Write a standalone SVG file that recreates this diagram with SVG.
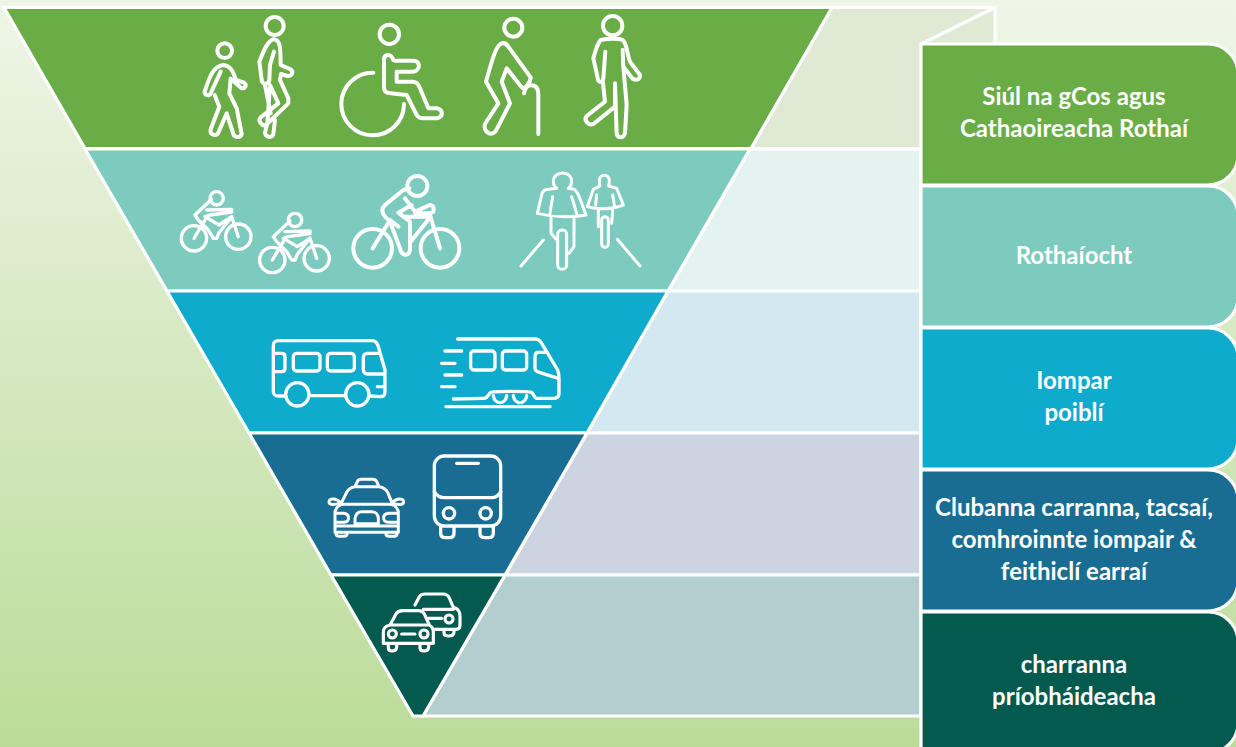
<svg xmlns="http://www.w3.org/2000/svg" width="1236" height="747" viewBox="0 0 1236 747">
<defs>
<linearGradient id="bg" x1="0" y1="0" x2="0" y2="1"><stop offset="0" stop-color="#eff6e8"/><stop offset="0.15" stop-color="#e7f1db"/><stop offset="1" stop-color="#bbdc99"/></linearGradient>
<g id="cyclist">
<circle cx="72" cy="235" r="38"/><circle cx="205" cy="230" r="38"/><circle cx="140" cy="115" r="20"/>
<path d="M125,118 L75,165 L85,180 L115,210 L130,235 L140,235 L147,218 L185,170 M110,150 L185,148 L185,156 L120,165 L105,170 L147,195 L185,170 M72,235 L105,180 M205,230 L185,170"/>
</g>
</defs>
<style>
.s{fill:none;stroke:#fff;stroke-linecap:round;stroke-linejoin:round;stroke-width:12}
.edge{stroke:#fff;stroke-width:3.2}
.box{stroke:#fff;stroke-width:3.2}
.lab{font-family:"Lato","Carlito","Liberation Sans",sans-serif;font-weight:700;font-size:24px;fill:#fff;text-anchor:middle}
</style>
<rect id="background" width="1236" height="747" fill="url(#bg)"/>
<g id="connectors">
<polygon class="edge" points="832,7.5 995,7.5 995,148.5 751,148.5" fill="#dfe9d3"/>
<polygon class="edge" points="750,149 921,149 921,291 668,291" fill="#e4f3ef"/>
<polygon class="edge" points="668,291 921,291 921,433 587,433" fill="#d3e8f1"/>
<polygon class="edge" points="587,433 921,433 921,575 505,575" fill="#ccd4e2"/>
<polygon class="edge" points="505,575 921,575 921,716 423,716" fill="#b2cece"/>
<path class="edge" fill="none" d="M921,44 L995,7.5"/>
</g>
<g id="tier-walking"><polygon class="edge" points="4,7.5 832,7.5 751,148.5 85,148.5" fill="#6aac46"/>
<g class="s" transform="translate(180,0) scale(.33333)">
<circle cx="134" cy="152" r="22"/>
<path d="M130,195 C100,200 90,225 74,275 C74,286 88,290 92,280 L122,215 M130,195 C150,197 158,210 168,240 L192,248 C202,255 196,268 184,264 L152,236 L148,280 L170,325 L185,402 C182,414 164,414 160,402 L140,340 L115,398 C108,410 88,405 92,388 L118,320 L104,285"/>
<circle cx="284" cy="78" r="27"/>
<path d="M280,118 C262,122 250,155 238,185 L246,245 C252,255 266,252 268,240 L270,195 L282,155 M280,118 C298,120 302,128 302,195 L332,208 C342,215 336,230 322,228 L303,222 L300,240 L325,295 L325,310 L258,375 C246,380 232,362 242,352 L295,310 L270,255 L262,370 M255,255 L272,340 M285,360 L280,402 C276,416 256,412 255,398 L262,370"/>
<circle cx="628" cy="103" r="29"/>
<path d="M640,180 C632,158 612,162 612,178 L612,262 C612,274 620,280 632,280 L680,285 L710,345 C716,354 720,355 728,355 L772,355 C790,350 790,330 772,325 L745,325 L720,265 C715,250 708,245 698,245 L650,245 L650,215 L700,215 C722,212 722,182 700,182 L645,182"/>
<path d="M580,218 A94,94 0 1 0 672,312"/>
<circle cx="1000" cy="83" r="27"/>
<path d="M965,130 C950,135 940,165 918,245 L955,310 L915,372 C908,395 935,412 948,392 L990,310 L965,245 L980,205 L1025,262 C1035,272 1052,245 1052,232 L985,140 C980,132 972,128 965,130 M1032,280 C1036,262 1042,256 1055,256 C1070,256 1075,268 1075,285 L1075,402"/>
<circle cx="1298" cy="77" r="29"/>
<path d="M1262,120 C1285,115 1315,115 1328,120 C1340,128 1342,165 1350,185 L1380,225 C1380,240 1368,242 1358,236 L1330,200 L1328,150 M1262,120 C1250,135 1245,155 1240,175 L1255,242 C1262,250 1268,245 1270,235 L1276,155 M1330,200 L1340,315 L1335,400 C1330,416 1312,416 1310,400 L1305,250 L1305,320 L1240,372 C1225,378 1210,360 1220,348 L1275,305 L1268,240"/>
</g></g>
<g id="tier-cycling"><polygon class="edge" points="85,149 750,149 668,291 167,291" fill="#7ccbbe"/>
<g class="s" transform="translate(170,160) scale(.33333)">
<use href="#cyclist" style="stroke-width:10"/>
<use href="#cyclist" x="235" y="65" style="stroke-width:10"/>
<circle cx="608" cy="265" r="58"/><circle cx="810" cy="265" r="58"/><circle cx="742" cy="78" r="30"/>
<path d="M718,85 L700,90 L645,135 C635,145 635,158 645,170 L660,185 L690,265 C695,290 720,290 720,268 L720,185 L685,158 L725,135 M705,115 L735,155 L780,135 C795,138 795,158 780,160 L735,160 M608,265 L660,180 L685,200 M810,265 L780,165 M722,245 L778,175 M700,170 L775,170"/>
<g style="stroke-width:9">
<path d="M1150,65 C1150,30 1205,30 1205,65 C1205,75 1198,82 1195,85 L1212,88 C1222,92 1228,110 1248,165 Q1175,178 1102,160 L1115,105 C1118,92 1125,88 1135,88 L1160,85 C1155,80 1150,75 1150,65 M1148,110 L1140,160 M1205,110 L1220,160 M1143,175 L1143,220 L1160,240 M1212,175 L1212,260 L1197,280"/>
<rect x="1163" y="210" width="27" height="118" rx="13"/>
<path d="M1288,62 C1288,40 1318,40 1318,62 C1318,70 1316,75 1316,78 L1340,85 L1360,135 Q1305,155 1252,140 L1270,88 L1290,78 C1290,75 1288,70 1288,62 M1280,105 L1277,135 M1328,105 L1333,135 M1285,152 L1285,200 M1328,152 L1325,190"/>
<rect x="1295" y="170" width="20" height="92" rx="10"/>
<path d="M1053,318 L1120,240 M1342,238 L1410,318"/>
</g></g></g>
<g id="tier-transit"><polygon class="edge" points="167,291 668,291 587,433 249,433" fill="#0eabcc"/>
<g class="s" style="stroke-width:10" transform="translate(260,325) scale(.33333)">
<path d="M75,213 L55,213 C46,213 40,208 40,200 L40,62 C40,53 46,47 55,47 L335,47 C346,47 352,52 355,65 L375,135 L375,200 C375,210 370,215 360,215 L330,213 M255,212 L150,212 M40,85 L65,85 C72,85 75,90 75,96 L75,130 C75,136 72,140 65,140 L40,140 M358,85 L322,85 C315,85 310,90 310,97 L310,135 C310,142 315,147 322,147 L375,147 M352,185 L375,185"/>
<circle cx="112" cy="208" r="35"/><circle cx="292" cy="208" r="35"/>
<rect x="100" y="85" width="80" height="53" rx="10"/><rect x="202" y="85" width="81" height="53" rx="10"/>
<path d="M593,42 L825,42 C835,42 840,46 845,55 L893,135 C896,142 897,150 897,160 L897,205 C897,215 892,220 882,220 L830,220 C824,220 820,205 815,202 C805,198 700,198 692,202 C685,206 684,220 672,220 L580,222 M555,78 L605,78 M545,115 L585,115 M555,150 L605,150 M545,185 L585,185 M558,245 L870,245 M835,82 C828,82 825,88 825,95 L825,128 C825,136 830,140 838,142 L895,160 M830,82 L862,82 M700,212 C704,240 736,240 740,212 M760,212 C764,240 796,240 800,212"/>
<rect x="632" y="78" width="73" height="57" rx="10"/><rect x="727" y="78" width="73" height="57" rx="10"/>
</g></g>
<g id="tier-shared"><polygon class="edge" points="249,433 587,433 505,575 331,575" fill="#196d92"/>
<g class="s" style="stroke-width:9" transform="translate(320,445) scale(.33333)">
<path d="M105,125 L112,110 C114,105 118,103 124,103 L158,103 C164,103 168,106 170,110 L177,125 Z M62,178 L80,142 C85,132 92,127 105,125 M177,125 C190,127 198,132 203,142 L218,178 M45,200 C50,185 60,178 72,178 L208,178 C222,178 232,188 235,200 L235,262 L45,262 Z M60,172 C50,160 27,158 27,170 C27,182 50,180 60,172 M218,172 C228,160 251,158 251,170 C251,182 228,180 218,172 M45,205 L72,205 C90,208 90,230 72,232 L45,232 M235,205 L205,205 C186,208 186,230 205,232 L235,232 M105,236 L105,222 C105,208 115,200 125,200 L155,200 C168,200 175,210 175,222 L175,236 Z M50,243 L228,243 M48,262 L48,264 C48,272 52,274 58,274 L72,274 C78,274 82,270 82,262 M197,262 C197,270 201,274 207,274 L222,274 C228,274 232,270 232,262"/>
<g style="stroke-width:10">
<rect x="343" y="33" width="199" height="210" rx="30"/>
<path d="M343,140 C350,152 358,158 372,158 L514,158 C528,158 536,152 542,140 M410,55 L475,55 M362,245 L362,265 C362,274 368,278 376,278 L388,278 C396,278 402,274 402,265 L402,245 M480,245 L480,265 C480,274 486,278 494,278 L506,278 C514,278 520,274 520,265 L520,245"/>
<circle cx="387" cy="205" r="17"/><circle cx="497" cy="205" r="17"/>
</g></g></g>
<g id="tier-private"><polygon class="edge" points="331,575 505,575 423,716 413,716" fill="#045a4f"/>
<g class="s" style="stroke-width:9.5" transform="translate(370,580) scale(.33333)">
<path d="M135,75 L148,50 C152,44 156,42 165,42 L220,42 C230,42 234,46 238,54 L250,82 C262,85 270,92 270,108 L270,135 C270,145 266,148 258,148 L192,148 M160,88 L250,88 M175,115 L215,115 M222,150 L222,158 C222,165 228,168 236,168 C246,168 252,165 252,156 L252,148"/>
<circle cx="237" cy="117" r="12"/>
<path d="M60,135 L78,102 C82,95 88,92 98,92 L145,92 C155,92 160,96 164,104 L178,135 C186,140 190,146 190,156 L190,190 L40,190 L40,156 C40,146 48,138 60,135 Z M60,135 L178,135 M95,162 L135,162 M55,190 L55,203 C55,210 60,213 66,213 C74,213 80,210 80,200 L80,190 M150,190 L150,203 C150,210 155,213 162,213 C170,213 176,210 176,200 L176,190"/>
<circle cx="67" cy="162" r="12"/><circle cx="162" cy="162" r="12"/>
</g></g>
<g id="label-walking"><path class="box" d="M921,44 L1208,44 A30,30 0 0 1 1238,74 L1238,155 A30,30 0 0 1 1208,185 L921,185 Z" fill="#6aac46"/><text class="lab" x="1074" y="105">Siúl na gCos agus</text><text class="lab" x="1074" y="137">Cathaoireacha Rothaí</text></g>
<g id="label-cycling"><path class="box" d="M921,186 L1208,186 A30,30 0 0 1 1238,216 L1238,297 A30,30 0 0 1 1208,327 L921,327 Z" fill="#7ccbbe"/><text class="lab" x="1074" y="264">Rothaíocht</text></g>
<g id="label-transit"><path class="box" d="M921,328 L1208,328 A30,30 0 0 1 1238,358 L1238,439 A30,30 0 0 1 1208,469 L921,469 Z" fill="#0eabcc"/><text class="lab" x="1074" y="389">Iompar</text><text class="lab" x="1074" y="421">poiblí</text></g>
<g id="label-shared"><path class="box" d="M921,470 L1208,470 A30,30 0 0 1 1238,500 L1238,581 A30,30 0 0 1 1208,611 L921,611 Z" fill="#196d92"/><text class="lab" x="1074" y="516">Clubanna carranna, tacsaí,</text><text class="lab" x="1074" y="548">comhroinnte iompair &amp;</text><text class="lab" x="1074" y="580">feithiclí earraí</text></g>
<g id="label-private"><path class="box" d="M921,612 L1208,612 A30,30 0 0 1 1238,642 L1238,723 A30,30 0 0 1 1208,753 L921,753 Z" fill="#045a4f"/><text class="lab" x="1074" y="673">charranna</text><text class="lab" x="1074" y="705">príobháideacha</text></g>
</svg>
